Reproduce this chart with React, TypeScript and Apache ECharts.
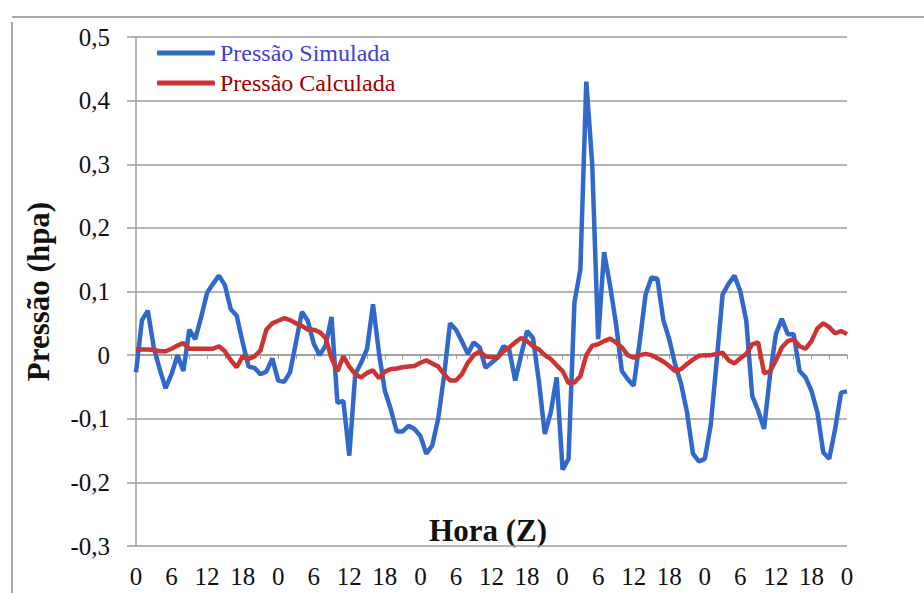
import React, { useEffect, useRef } from "react";
import * as echarts from "echarts";

// Hour-of-day tick labels, one category per hour over 5 days (0..120 h)
const hourLabels: string[] = Array.from({ length: 121 }, (_, i) => String(i % 24));

const yMin = -0.3;
const yMax = 0.5;
const yStep = 0.1;

const seriesNames = ["Pressão Simulada", "Pressão Calculada"];
const xTitle = "Hora (Z)";
const yTitle = "Pressão (hpa)";

const pressaoSimulada: number[] = [
  -0.027, 0.055, 0.07, 0.012, -0.022, -0.052, -0.03, 0.0, -0.025, 0.04,
  0.025, 0.06, 0.098, 0.112, 0.125, 0.11, 0.072, 0.062, 0.02, -0.018,
  -0.02, -0.03, -0.026, -0.005, -0.04, -0.042, -0.027, 0.02, 0.068, 0.054,
  0.018, 0.0, 0.015, 0.06, -0.075, -0.072, -0.158, -0.03, -0.012, 0.01,
  0.08, 0.004, -0.056, -0.085, -0.12, -0.12, -0.111, -0.116, -0.127, -0.155,
  -0.142, -0.1, -0.032, 0.05, 0.04, 0.022, 0.002, 0.02, 0.012, -0.02,
  -0.012, -0.004, 0.014, 0.008, -0.04, 0.0, 0.038, 0.027, -0.041, -0.124,
  -0.09, -0.035, -0.18, -0.163, 0.083, 0.135, 0.43, 0.3, 0.025, 0.162,
  0.11, 0.05, -0.025, -0.038, -0.048, 0.02, 0.095, 0.122, 0.12, 0.055,
  0.025, -0.015, -0.045, -0.09, -0.155, -0.167, -0.163, -0.11, -0.01, 0.095,
  0.112, 0.125, 0.1, 0.054, -0.064, -0.087, -0.116, -0.032, 0.033, 0.057,
  0.033, 0.033, -0.025, -0.035, -0.056, -0.09, -0.153, -0.163, -0.116, -0.059,
  -0.057,
];

const pressaoCalculada: number[] = [
  0.009, 0.009, 0.009, 0.008, 0.006, 0.006, 0.01, 0.015, 0.019, 0.01,
  0.01, 0.01, 0.01, 0.01, 0.014, 0.006, -0.008, -0.019, -0.002, -0.006,
  -0.002, 0.007, 0.04, 0.05, 0.054, 0.058, 0.055, 0.05, 0.046, 0.04,
  0.04, 0.036, 0.027, -0.005, -0.025, -0.002, -0.018, -0.03, -0.035, -0.028,
  -0.024, -0.036, -0.026, -0.022, -0.021, -0.019, -0.018, -0.017, -0.012, -0.008,
  -0.013, -0.018, -0.03, -0.04, -0.04, -0.03, -0.012, 0.0, 0.006, -0.002,
  -0.003, -0.004, 0.006, 0.012, 0.02, 0.027, 0.022, 0.014, 0.009, 0.0,
  -0.006, -0.016, -0.025, -0.044, -0.043, -0.033, 0.0, 0.015, 0.017, 0.022,
  0.026, 0.02, 0.012, 0.0, -0.004, 0.0, 0.002, 0.0, -0.005, -0.01,
  -0.017, -0.025, -0.022, -0.014, -0.007, -0.001, 0.0, 0.0, 0.002, 0.004,
  -0.008, -0.013, -0.005, 0.002, 0.017, 0.02, -0.028, -0.026, -0.008, 0.012,
  0.022, 0.025, 0.014, 0.01, 0.022, 0.042, 0.05, 0.044, 0.034, 0.038,
  0.033,
];

const FONT = "'Liberation Serif', 'DejaVu Serif', serif";
const GRID_COLOR = "#9c9c9c";

export default function App() {
  const ref = useRef<HTMLDivElement>(null);

  useEffect(() => {
    if (!ref.current) return;
    const chart = echarts.init(ref.current, undefined, { renderer: "svg" });
    const fmtY = (v: number) =>
      Math.abs(v) < 1e-9 ? "0" : v.toFixed(1).replace(".", ",");

    chart.setOption({
      animation: false,
      backgroundColor: "#ffffff",
      textStyle: { fontFamily: FONT },
      grid: { left: 136, right: 77, top: 37, bottom: 47 },
      legend: {
        orient: "vertical",
        left: 152,
        top: 36,
        itemGap: 6,
        itemWidth: 58,
        itemHeight: 5,
        icon: "roundRect",
        textStyle: { fontFamily: FONT, fontSize: 24 },
        data: [
          { name: seriesNames[0], textStyle: { color: "#4141cf" } },
          { name: seriesNames[1], textStyle: { color: "#a00000" } },
        ],
      },
      xAxis: [
        {
          type: "category",
          data: hourLabels,
          boundaryGap: false,
          position: "bottom",
          axisLine: { show: false, onZero: false },
          axisTick: { show: false },
          axisLabel: {
            interval: 5,
            margin: 18,
            fontFamily: FONT,
            fontSize: 25,
            color: "#111",
          },
          splitLine: { show: false },
        },
        {
          type: "category",
          data: hourLabels,
          boundaryGap: false,
          position: "bottom",
          axisLine: { show: true, onZero: true, lineStyle: { color: GRID_COLOR, width: 1.5 } },
          axisTick: { show: true, interval: 2, length: 4, lineStyle: { color: GRID_COLOR } },
          axisLabel: { show: false },
          splitLine: { show: false },
        },
      ],
      yAxis: {
        type: "value",
        min: yMin,
        max: yMax,
        interval: yStep,
        name: yTitle,
        nameLocation: "middle",
        nameGap: 82,
        nameTextStyle: { fontFamily: FONT, fontSize: 31, fontWeight: "bold", color: "#111" },
        axisLine: { show: true, lineStyle: { color: GRID_COLOR, width: 1.5 } },
        axisTick: { show: true, length: 9, lineStyle: { color: GRID_COLOR, width: 1.5 } },
        axisLabel: { margin: 26, fontFamily: FONT, fontSize: 25, color: "#111", formatter: fmtY },
        splitLine: { show: true, lineStyle: { color: GRID_COLOR, width: 1.5 } },
      },
      graphic: [
        { type: "line", shape: { x1: 12, y1: 17, x2: 924, y2: 17 }, style: { stroke: "#8c8c8c", lineWidth: 1.5 } },
        { type: "line", shape: { x1: 12, y1: 22, x2: 12, y2: 593 }, style: { stroke: "#8c8c8c", lineWidth: 1.5 } },
        {
          type: "text",
          x: 488,
          y: 530,
          style: {
            text: xTitle,
            fontFamily: FONT,
            fontSize: 31,
            fontWeight: "bold",
            fill: "#111",
            align: "center",
            verticalAlign: "middle",
          },
        },
      ],
      series: [
        {
          name: seriesNames[0],
          type: "line",
          xAxisIndex: 0,
          data: pressaoSimulada,
          symbol: "none",
          lineStyle: { color: "#3068cc", width: 4.5 },
          itemStyle: { color: "#3068cc" },
        },
        {
          name: seriesNames[1],
          type: "line",
          xAxisIndex: 0,
          data: pressaoCalculada,
          symbol: "none",
          lineStyle: { color: "#cc3333", width: 4.5 },
          itemStyle: { color: "#cc3333" },
        },
      ],
    });
    return () => chart.dispose();
  }, []);

  return (
    <div
      ref={ref}
      style={{ position: "absolute", left: 0, top: 0, width: 924, height: 593 }}
    />
  );
}
